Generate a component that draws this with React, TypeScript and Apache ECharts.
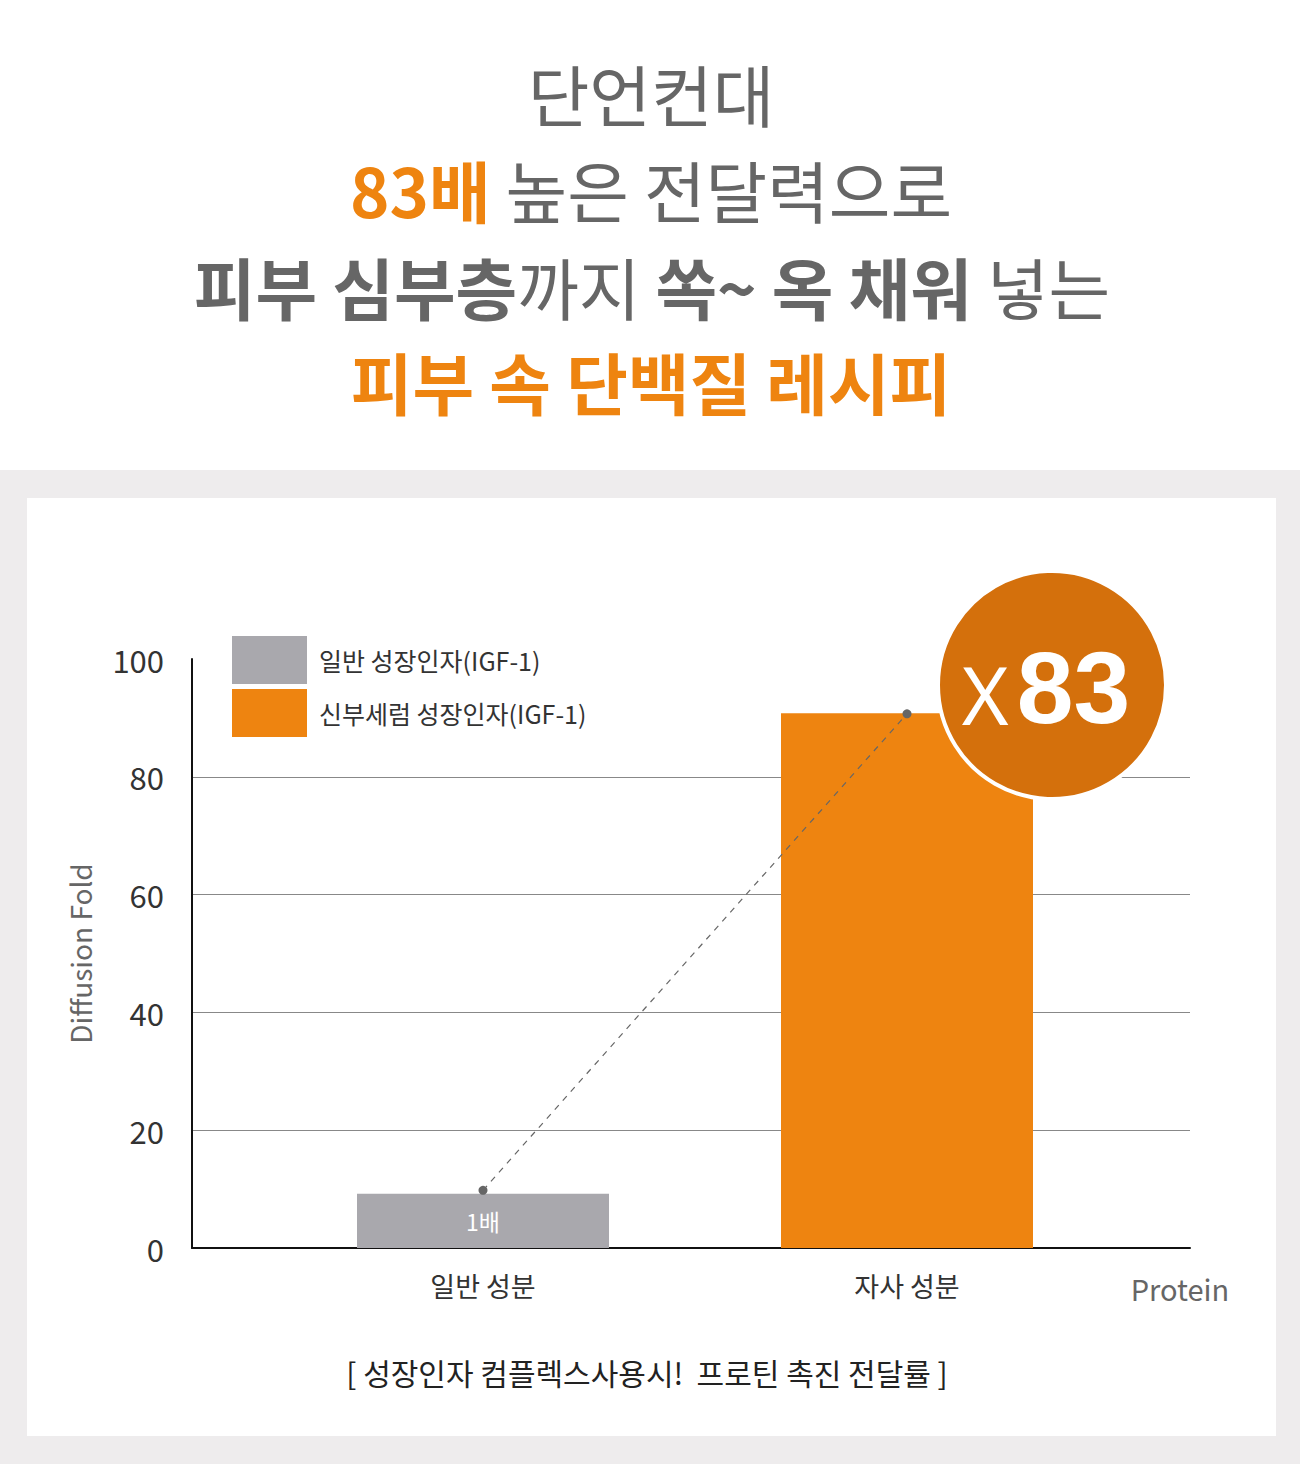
import React, { useEffect, useRef } from "react";
import * as echarts from "echarts";

const categories = ["일반 성분", "자사 성분"];
const seriesNames = ["일반 성장인자(IGF-1)", "신부세럼 성장인자(IGF-1)"];
const generalValues = [9.2, "-"];
const ownValues = ["-", 90.8];
const trendValues = [9.8, 90.7];
const yTicks = { min: 0, max: 100, interval: 20 };
const barLabel = "1배";
const badgeMultiplier = "83";

const FONT = "'Noto Sans CJK KR', 'Noto Sans', sans-serif";
const ORANGE = "#ee8410";
const GREY_TXT = "#666666";
const TITLE_SIZE = 67;

export default function App() {
  const ref = useRef<HTMLDivElement>(null);
  useEffect(() => {
    document.body.style.margin = "0";
    const chart = echarts.init(ref.current!, null, { renderer: "svg" });
    const option: any = {
      animation: false,
      textStyle: { fontFamily: FONT },
      legend: {
        data: seriesNames,
        orient: "vertical",
        left: 232,
        top: 636,
        padding: 0,
        itemWidth: 75,
        itemHeight: 48,
        itemGap: 5,
        icon: "rect",
        textStyle: { fontSize: 25, color: "#333", fontFamily: FONT, padding: [0, 0, 0, 7] },
      },
      grid: [
        { left: 192, right: 110, top: 659, bottom: 216 },
        { left: 271, right: 181, top: 659, bottom: 216 },
      ],
      xAxis: [
        {
          type: "value",
          gridIndex: 0,
          min: 0,
          max: 1,
          axisLabel: { show: false },
          axisTick: { show: false },
          splitLine: { show: false },
          axisLine: { show: true, lineStyle: { color: "#111", width: 2 } },
        },
        {
          type: "category",
          gridIndex: 1,
          data: categories,
          axisLine: { show: false },
          axisTick: { show: false },
          axisLabel: { fontSize: 27, color: "#333", margin: 24, fontFamily: FONT },
        },
      ],
      yAxis: [
        {
          type: "value",
          gridIndex: 0,
          min: yTicks.min,
          max: yTicks.max,
          interval: yTicks.interval,
          name: "Diffusion Fold",
          nameLocation: "middle",
          nameRotate: 90,
          nameGap: 98,
          nameTextStyle: { fontSize: 28, color: GREY_TXT, fontFamily: FONT },
          axisLine: { show: true, lineStyle: { color: "#111", width: 2 } },
          axisTick: { show: false },
          axisLabel: { fontSize: 31, color: "#333", margin: 28, fontFamily: FONT },
          splitLine: {
            show: true,
            lineStyle: {
              color: ["rgba(0,0,0,0)", "#888", "#888", "#888", "#888", "rgba(0,0,0,0)"],
              width: 1,
            },
          },
        },
        {
          type: "value",
          gridIndex: 1,
          min: yTicks.min,
          max: yTicks.max,
          interval: yTicks.interval,
          show: false,
        },
      ],
      series: [
        {
          name: seriesNames[0],
          type: "bar",
          xAxisIndex: 1,
          yAxisIndex: 1,
          data: generalValues,
          barWidth: 252,
          barGap: "-100%",
          itemStyle: { color: "#a9a8ad" },
          label: {
            show: true,
            position: "inside",
            formatter: barLabel,
            color: "#fff",
            fontSize: 23,
            fontFamily: FONT,
          },
        },
        {
          name: seriesNames[1],
          type: "bar",
          xAxisIndex: 1,
          yAxisIndex: 1,
          data: ownValues,
          barWidth: 252,
          barGap: "-100%",
          itemStyle: { color: ORANGE },
        },
        {
          name: "trend",
          type: "line",
          xAxisIndex: 1,
          yAxisIndex: 1,
          data: trendValues,
          symbol: "circle",
          symbolSize: 9,
          itemStyle: { color: "#666" },
          lineStyle: { color: "#666", width: 1.2, type: [6, 6] },
          z: 5,
        },
      ],
      graphic: [
        { type: "rect", z: -10, shape: { x: 0, y: 470, width: 1300, height: 994 }, style: { fill: "#eeeced" } },
        { type: "rect", z: -9, shape: { x: 27, y: 498, width: 1249, height: 938 }, style: { fill: "#ffffff" } },
        {
          type: "text",
          x: 651,
          y: 92,
          style: {
            text: "단언컨대",
            fill: GREY_TXT,
            font: `400 ${TITLE_SIZE}px ${FONT}`,
            align: "center",
            verticalAlign: "middle",
          },
        },
        {
          type: "text",
          x: 651,
          y: 188,
          style: {
            text: "{o|83배} {n|높은 전달력으로}",
            align: "center",
            verticalAlign: "middle",
            rich: {
              o: { fill: ORANGE, fontSize: TITLE_SIZE, fontWeight: "bold", fontFamily: FONT },
              n: { fill: GREY_TXT, fontSize: TITLE_SIZE, fontWeight: 400, fontFamily: FONT },
            },
            fill: GREY_TXT,
            fontSize: TITLE_SIZE,
            fontFamily: FONT,
          },
        },
        {
          type: "text",
          x: 652,
          y: 285,
          style: {
            text: "{b|피부 심부층}{n|까지} {b|쏙~ 옥 채워} {n|넣는}",
            align: "center",
            verticalAlign: "middle",
            rich: {
              b: { fill: GREY_TXT, fontSize: TITLE_SIZE, fontWeight: "bold", fontFamily: FONT },
              n: { fill: GREY_TXT, fontSize: TITLE_SIZE, fontWeight: 400, fontFamily: FONT },
            },
            fill: GREY_TXT,
            fontSize: TITLE_SIZE,
            fontFamily: FONT,
          },
        },
        {
          type: "text",
          x: 651,
          y: 380,
          style: {
            text: "피부 속 단백질 레시피",
            fill: ORANGE,
            font: `bold ${TITLE_SIZE}px ${FONT}`,
            align: "center",
            verticalAlign: "middle",
          },
        },
        {
          type: "circle",
          z: 20,
          shape: { cx: 1052, cy: 685, r: 114 },
          style: { fill: "#d4700c", stroke: "#ffffff", lineWidth: 4 },
        },
        {
          type: "text",
          z: 21,
          x: 1046,
          y: 688,
          style: {
            text: "{x|X}{n|" + badgeMultiplier + "}",
            align: "center",
            verticalAlign: "middle",
            rich: {
              x: { fill: "#fff", fontSize: 80, fontWeight: 400, fontFamily: "'Noto Sans', sans-serif", padding: [10, 8, 0, 0] },
              n: { fill: "#fff", fontSize: 102, fontWeight: "bold", fontFamily: "'Liberation Sans', Arial, sans-serif" },
            },
            fill: "#fff",
          },
        },
        {
          type: "text",
          x: 1180,
          y: 1288,
          style: {
            text: "Protein",
            fill: GREY_TXT,
            font: `400 29px ${FONT}`,
            align: "center",
            verticalAlign: "middle",
          },
        },
        {
          type: "text",
          x: 647,
          y: 1372,
          style: {
            text: "[ 성장인자 컴플렉스사용시!  프로틴 촉진 전달률 ]",
            fill: "#222",
            font: `400 30px ${FONT}`,
            align: "center",
            verticalAlign: "middle",
          },
        },
      ],
    };
    chart.setOption(option);
    return () => chart.dispose();
  }, []);
  return <div ref={ref} style={{ width: 1300, height: 1464 }} />;
}
